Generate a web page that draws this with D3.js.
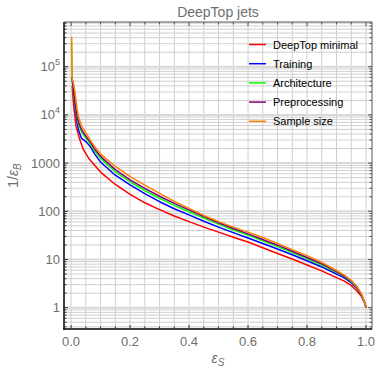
<!DOCTYPE html>
<html><head><meta charset="utf-8">
<script src="https://cdn.jsdelivr.net/npm/d3@7"></script>
<style>body{margin:0;background:#fff}svg{display:block}</style>
</head><body>
<svg id="c" width="377" height="371"></svg>
<script>
const seriesNames = ["DeepTop minimal","Training","Architecture","Preprocessing","Sample size"];
const seriesColors = ["#ff0000","#0000ff","#00ff00","#800080","#ff8000"];

const redEps  = [0.004,0.008,0.017,0.03,0.042,0.06,0.08,0.1,0.15,0.2,0.25,0.3,0.35,0.4,0.45,0.5,0.55,0.6,0.65,0.7,0.75,0.8,0.85,0.9,0.925,0.95,0.97,0.985,0.995,1.0];
const redVal  = [40000,17000,5700,3000,1900,1250,900,650,360,225,150,108,80,61,47,37,29,23,17.5,13.3,10.2,7.7,5.8,4.2,3.6,2.9,2.2,1.7,1.25,1.0];

const blueEps = [0.003,0.008,0.015,0.025,0.035,0.05,0.065,0.08,0.1,0.15,0.2,0.25,0.3,0.35,0.4,0.45,0.5,0.55,0.6,0.65,0.7,0.75,0.8,0.85,0.9,0.925,0.95,0.97,0.985,0.995,1.0];
const blueVal = [60000,38000,12000,4850,3300,2800,2200,1550,1050,560,352,232,158,113,84,62,47,36,28,21.5,16.5,12.5,9.4,7.0,5.0,4.2,3.3,2.5,1.8,1.3,1.0];

const greenEps = [0.001,0.004,0.008,0.015,0.025,0.035,0.05,0.065,0.08,0.1,0.15,0.2,0.25,0.3,0.35,0.4,0.45,0.5,0.55,0.6,0.65,0.7,0.75,0.8,0.85,0.9,0.925,0.95,0.97,0.985,0.995,1.0];
const greenVal = [310000,50000,30000,13000,6500,4500,3300,2550,1800,1250,660,410,270,186,133,98,72,54,41,32,24.5,18.5,14,10.5,7.7,5.4,4.5,3.5,2.6,1.85,1.3,1.0];

const purpleEps = [0.003,0.008,0.015,0.025,0.035,0.05,0.065,0.08,0.1,0.15,0.2,0.25,0.3,0.35,0.4,0.45,0.5,0.55,0.6,0.65,0.7,0.75,0.8,0.85,0.9,0.925,0.95,0.97,0.985,0.995,1.0];
const purpleVal = [60000,33000,14000,7200,5000,3600,2750,1950,1380,730,450,300,205,146,107,78,58,44,34,26,19.8,14.8,11,8.1,5.6,4.6,3.6,2.65,1.88,1.3,1.0];

const orangeEps = [0.002,0.004,0.008,0.013,0.02,0.025,0.035,0.05,0.065,0.08,0.1,0.15,0.2,0.25,0.3,0.35,0.4,0.45,0.5,0.55,0.6,0.65,0.7,0.75,0.8,0.85,0.9,0.925,0.95,0.97,0.985,0.995,1.0];
const orangeVal = [420000,55000,45000,30000,14000,9100,6000,4300,3000,2200,1550,850,524,350,236,160,115,82,61,47,37,28.5,21.6,16,12,8.7,5.9,4.8,3.7,2.7,1.9,1.3,1.0];

const xTicks = [0,0.2,0.4,0.6,0.8,1.0];
const xTickLabels = ["0.0","0.2","0.4","0.6","0.8","1.0"];
const yTicks = [1,10,100,1000,10000,100000];
const yTickLabels = ["1","10","100","1000","10^4","10^5"];

const allEps = [redEps,blueEps,greenEps,purpleEps,orangeEps];
const allVal = [redVal,blueVal,greenVal,purpleVal,orangeVal];

const svg = d3.select("#c");
const L=64,R=372,T=22,B=329;
const x = d3.scaleLinear().domain([-0.024,1.0203]).range([L,R]);
const y = d3.scaleLog().domain([0.361,846000]).range([B,T]);

// grid
const g = svg.append("g");
const vGrid = d3.range(0,21).map(i=>i*0.05);
g.selectAll(".vg").data(vGrid).join("line")
 .attr("x1",d=>x(d)).attr("x2",d=>x(d)).attr("y1",T).attr("y2",B)
 .attr("stroke","#cfcfcf").attr("stroke-width",1);
const hMinor=[];
for(let e=-1;e<=5;e++) for(let m=1;m<=9;m++){const v=m*Math.pow(10,e); if(v>=0.361&&v<=846000&&m>1) hMinor.push(v);}
g.selectAll(".hg").data(hMinor).join("line")
 .attr("x1",L).attr("x2",R).attr("y1",d=>y(d)).attr("y2",d=>y(d))
 .attr("stroke","#cfcfcf").attr("stroke-width",1);
g.selectAll(".hM").data(yTicks).join("line")
 .attr("x1",L).attr("x2",R).attr("y1",d=>y(d)).attr("y2",d=>y(d))
 .attr("stroke","#d8d8d8").attr("stroke-width",2);

// curves
const line = d3.line().x(d=>x(d[0])).y(d=>y(d[1]));
allEps.forEach((eps,i)=>{
  const pts = eps.map((e,j)=>[e,allVal[i][j]]);
  svg.append("path").datum(pts).attr("d",line).attr("fill","none")
   .attr("stroke",seriesColors[i]).attr("stroke-width",1.5).attr("stroke-linejoin","round");
});

// frame
svg.append("line").attr("x1",L).attr("x2",R).attr("y1",T).attr("y2",T).attr("stroke","#555").attr("stroke-width",1);
svg.append("line").attr("x1",R).attr("x2",R).attr("y1",T).attr("y2",B).attr("stroke","#555").attr("stroke-width",1);
svg.append("line").attr("x1",L).attr("x2",L).attr("y1",T).attr("y2",B+0.75).attr("stroke","#000").attr("stroke-width",1.5);
svg.append("line").attr("x1",L-0.75).attr("x2",R).attr("y1",B).attr("y2",B).attr("stroke","#000").attr("stroke-width",1.5);

// ticks on frame
const xMinor = d3.range(0,21).map(i=>i*0.05);
svg.selectAll(".xt").data(xMinor).join("line")
 .attr("x1",d=>x(d)).attr("x2",d=>x(d)).attr("y1",B).attr("y2",d=>B-(Math.abs(d*5-Math.round(d*5))<1e-6?4:2.5))
 .attr("stroke","#333").attr("stroke-width",1);
svg.selectAll(".xtt").data(xMinor).join("line")
 .attr("x1",d=>x(d)).attr("x2",d=>x(d)).attr("y1",T).attr("y2",d=>T+(Math.abs(d*5-Math.round(d*5))<1e-6?4:2.5))
 .attr("stroke","#555").attr("stroke-width",1);
const yAllTicks = hMinor.concat(yTicks);
svg.selectAll(".yt").data(yAllTicks).join("line")
 .attr("x1",L).attr("x2",d=>L+(yTicks.includes(d)?4:2.5)).attr("y1",d=>y(d)).attr("y2",d=>y(d))
 .attr("stroke","#333").attr("stroke-width",1);
svg.selectAll(".ytr").data(yAllTicks).join("line")
 .attr("x1",R).attr("x2",d=>R-(yTicks.includes(d)?4:2.5)).attr("y1",d=>y(d)).attr("y2",d=>y(d))
 .attr("stroke","#555").attr("stroke-width",1);

// tick labels
const font="Liberation Sans, Arial, sans-serif";
svg.selectAll(".xl").data(xTicks).join("text")
 .attr("x",d=>x(d)).attr("y",346).attr("text-anchor","middle")
 .attr("font-family",font).attr("font-size",13).attr("fill","#6e6e6e")
 .text((d,i)=>xTickLabels[i]);
yTicks.forEach((v,i)=>{
  const lab=yTickLabels[i];
  const t=svg.append("text").attr("x",60).attr("y",y(v)+4.5).attr("text-anchor","end")
   .attr("font-family",font).attr("font-size",13).attr("fill","#6e6e6e");
  if(lab.includes("^")){
    const [b,e]=lab.split("^");
    t.append("tspan").text(b);
    t.append("tspan").attr("font-size",9).attr("dy",-6).text(e);
  } else t.text(lab);
});

// title
svg.append("text").attr("x",(L+R)/2).attr("y",17).attr("text-anchor","middle")
 .attr("font-family",font).attr("font-size",14).attr("fill","#6e6e6e").text("DeepTop jets");

// axis labels
const xl=svg.append("text").attr("x",(L+R)/2).attr("y",363).attr("text-anchor","middle")
 .attr("font-family",font).attr("font-size",14).attr("fill","#6e6e6e").attr("font-style","italic");
xl.append("tspan").text("ε");
xl.append("tspan").attr("font-size",10).attr("dy",3).text("S");
const yl=svg.append("text").attr("transform",`translate(18,${(T+B)/2}) rotate(-90)`).attr("text-anchor","middle")
 .attr("font-family",font).attr("font-size",14).attr("fill","#6e6e6e");
yl.append("tspan").text("1/");
yl.append("tspan").attr("font-style","italic").text("ε");
yl.append("tspan").attr("font-size",10).attr("dy",3).attr("font-style","italic").text("B");

// legend
const lg=svg.append("g");
seriesNames.forEach((n,i)=>{
  const yy=44.5+i*19.2;
  lg.append("line").attr("x1",249).attr("x2",266).attr("y1",yy).attr("y2",yy)
   .attr("stroke",seriesColors[i]).attr("stroke-width",1.5);
  lg.append("text").attr("x",273).attr("y",yy+4).attr("font-family",font).attr("font-size",11)
   .attr("fill","#000").text(n);
});
</script>
</body></html>
